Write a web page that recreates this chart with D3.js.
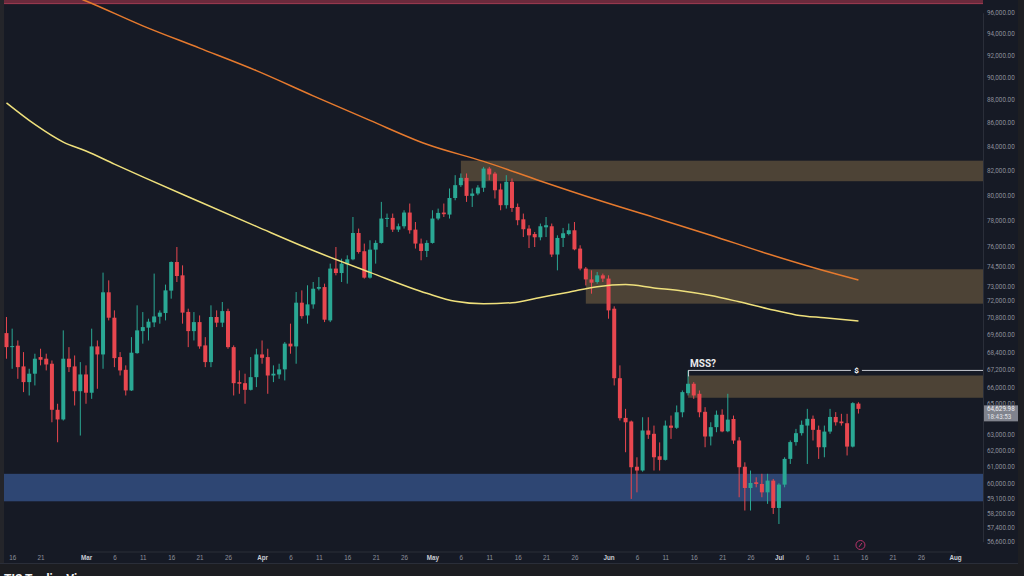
<!DOCTYPE html>
<html>
<head>
<meta charset="utf-8">
<script src="https://cdn.jsdelivr.net/npm/d3@7"></script>
<style>
  html, body { margin: 0; padding: 0; background: #161a25; overflow: hidden; }
  svg { display: block; font-family: Roboto, "DejaVu Sans", sans-serif; }
</style>
</head>
<body>
<svg id="chart" width="1024" height="576"></svg>
<script>
// daily candles, one per day starting here
var firstDay = "2025-02-15";

var opens = [69710,68740,68840,67430,66380,66940,68060,67950,67610,64570,
  63950,67950,67430,65780,66890,65680,68790,68240,72610,70790,
  68060,67200,65830,68330,69850,70090,70460,70860,71120,72730,
  74840,73850,71200,69850,70480,68860,67720,70840,70440,71260,
  68740,66380,66310,65870,66710,68240,68060,66820,66890,67230,
  68980,68790,71860,70950,71740,72870,72990,70600,74350,74020,
  74670,75040,77040,75650,73680,75770,76280,78160,78210,77300,
  77560,78630,77300,76230,75670,76280,78160,78630,78470,79780,
  80810,81400,79950,80140,80600,82160,81750,80460,79210,81080,
  79070,78100,77380,76960,76710,77480,77560,75400,76660,76960,
  77250,75850,74350,73550,73360,73850,73610,71430,66640,64050,
  63820,61000,60770,63250,63040,61640,61420,63560,63420,64410,
  65650,66270,65610,64440,62870,63460,64250,63200,63980,62620,
  61000,59720,60060,59960,59460,60160,58540,59920,61480,62520,
  63080,63560,63990,63290,62200,63180,64110,63820,63710,62240,
  64970];
var highs = [70840,70020,69200,68400,67270,68290,68630,68290,67830,64960,
  69900,68740,68170,67720,67500,70020,69200,74050,73480,71310,
  68400,67500,69430,71670,71190,70720,73980,71310,73170,74880,
  75970,74590,71430,71190,70950,69430,71670,71310,71910,71430,
  68860,67160,66940,68060,68630,69200,68630,67500,67610,69090,
  70370,72630,72750,73120,73360,73720,73240,74720,75970,75090,
  75340,78280,77380,76230,76480,76480,79470,78550,78550,77770,
  78810,79340,77890,76610,76480,78810,78940,79340,80540,81620,
  81760,81760,80540,80810,82300,82300,81890,80940,81620,81350,
  79340,78550,77640,77120,77770,78280,77770,76860,77430,77770,
  77890,76100,74470,74220,74100,73980,73850,71600,67500,64630,
  63880,61580,64090,64090,63560,62500,63880,64200,64850,65830,
  67160,66380,65830,64740,63770,64520,64600,65610,64200,62830,
  61270,60770,60360,60570,60570,60260,60000,61580,62620,63350,
  63880,64630,64200,63560,63560,64630,64420,64310,64310,65060,
  65060];
var lows = [67950,67270,66600,65720,65500,66160,67500,67160,63770,62510,
  63880,67050,64850,62930,64960,65280,65940,67270,70600,67380,
  66820,65500,65800,68290,68980,69200,70130,70370,70600,72150,
  73360,70370,68740,69200,68630,67380,67380,70130,70130,68630,
  65500,65610,64960,65830,66050,67610,65610,66380,66600,66490,
  68290,67610,70720,70370,71430,72750,70480,70480,73850,73360,
  73240,74970,75470,73610,73610,74720,76230,77500,77120,77120,
  77380,76990,75850,74970,75210,76230,78030,78280,78160,79600,
  80670,79470,79070,80000,80270,81210,79740,78810,78940,78680,
  77640,76730,75890,75970,76480,76730,75210,74220,75970,76860,
  75720,74220,73110,72510,73240,73360,70720,66160,63880,61890,
  59070,59460,60700,62720,60770,60770,61380,62720,63350,64090,
  65500,65280,64090,62200,62310,63140,63140,63140,62410,59170,
  58390,58390,59760,59170,58780,58190,57610,59760,61170,62300,
  62930,61170,62620,61480,61580,63040,63560,63560,61690,62190,
  64330];
var closes = [68740,68810,67380,66380,66940,67950,67880,67560,64570,63950,
  67950,67380,65780,66890,65680,68790,68240,72610,70790,67990,
  67160,65830,68360,69900,70130,70510,70880,71150,72750,74840,
  73800,71150,69850,70480,68790,67720,70840,70440,71260,68740,
  66310,66270,65870,66710,68240,68010,66820,66940,67230,68980,
  68790,71860,70900,71740,72870,72990,70650,74350,74020,74720,
  75040,77040,75590,73680,75770,76280,78160,78210,77300,77560,
  78630,77250,76230,75670,76280,78160,78600,78500,79780,80810,
  81400,79950,80140,80620,82160,81680,80400,79210,81080,78990,
  78030,77330,76860,76710,77560,77640,75400,76660,77020,77250,
  75790,74350,73550,73310,73850,73610,71310,66640,64030,63770,
  60970,60770,63250,62980,61580,61420,63560,63420,64410,65720,
  66270,65500,64410,62870,63460,64250,63190,63940,62620,60970,
  59720,60020,59960,59460,60160,58540,59920,61480,62520,63080,
  63610,63990,63290,62200,63180,64110,63770,63710,62240,65000,
  64629.98];

// moving averages
var slowMaDates = ["2025-02-25","2025-03-01","2025-03-11","2025-03-21","2025-03-31","2025-04-10",
  "2025-04-20","2025-04-30","2025-05-10","2025-05-20","2025-05-30","2025-06-09","2025-06-19",
  "2025-06-29","2025-07-09","2025-07-15"];
var slowMaValues = [98010,97130,94750,92660,90600,88350,86210,84180,82750,81150,79640,78250,
  76870,75460,74190,73510];
var fastMaDates = ["2025-02-15","2025-02-20","2025-02-25","2025-03-01","2025-03-06","2025-03-11",
  "2025-03-21","2025-03-31","2025-04-10","2025-04-20","2025-04-30","2025-05-05","2025-05-10",
  "2025-05-15","2025-05-20","2025-05-25","2025-05-30","2025-06-04","2025-06-09","2025-06-14",
  "2025-06-19","2025-06-24","2025-06-29","2025-07-04","2025-07-09","2025-07-15"];
var fastMaValues = [87730,85860,84360,83610,82530,81480,79480,77550,75700,74070,72540,71960,
  71780,71860,72240,72620,73020,73170,72930,72710,72380,71920,71430,70990,70780,70560];

// zones: start date, top, bottom
var zoneStarts = ["2025-02-01","2025-05-06","2025-05-28","2025-06-15","2025-02-01"];
var zoneTops = [98500,82810,74300,66820,60570];
var zoneBottoms = [96830,81130,71790,65350,58930];
var zoneColors = ["#6b2a3c","#4d4336","#4d4336","#4d4336","#2e4673"];

var mssDate = "2025-06-15", mssLevel = 67160, mssText = "MSS?";

var priceTicks = [96000,94000,92000,90000,88000,86000,84000,82000,80000,78000,76000,74500,
  73000,72000,70800,69600,68400,67200,66000,65000,63000,62000,61000,60000,59100,58200,
  57400,56600];
var tickDays = [1, 6, 11, 16, 21, 26];
var countdown = "18:43:53";

var parseDay = d3.utcParse("%Y-%m-%d");
var W = 1024, H = 576,
    plotLeft = 4, plotRight = 983, plotTop = 0, plotBottom = 551.5;

var svg = d3.select("#chart");

var x = d3.scaleUtc()
    .domain([new Date(Date.UTC(2025, 2, 1)), new Date(Date.UTC(2025, 7, 1))])
    .range([86, 955]);
var y = d3.scaleLog()
    .domain([56600, 96000])
    .range([541.7, 12.7]);

var start = parseDay(firstDay);
var candles = opens.map(function(o, i) {
  return {date: d3.utcDay.offset(start, i), o: o, h: highs[i], l: lows[i], c: closes[i]};
});

svg.append("rect").attr("width", W).attr("height", H).attr("fill", "#161a25");
svg.append("defs").append("clipPath").attr("id", "plotClip")
  .append("rect")
  .attr("x", plotLeft).attr("y", plotTop)
  .attr("width", plotRight - plotLeft).attr("height", plotBottom - plotTop);

var plot = svg.append("g").attr("clip-path", "url(#plotClip)");

// zones
plot.selectAll(".zone")
  .data(zoneStarts)
  .enter().append("rect")
  .attr("class", "zone")
  .attr("x", function(d) { return Math.max(plotLeft, x(parseDay(d))); })
  .attr("y", function(d, i) { return y(zoneTops[i]); })
  .attr("width", function(d) { return plotRight - Math.max(plotLeft, x(parseDay(d))); })
  .attr("height", function(d, i) { return y(zoneBottoms[i]) - y(zoneTops[i]); })
  .attr("fill", function(d, i) { return zoneColors[i]; });

plot.append("line")
  .attr("x1", plotLeft).attr("x2", plotRight)
  .attr("y1", y(zoneBottoms[0]) - 0.5).attr("y2", y(zoneBottoms[0]) - 0.5)
  .attr("stroke", "#9b3a50").attr("stroke-width", 1);

// candles
var bar = plot.selectAll(".candle")
  .data(candles)
  .enter().append("g")
  .attr("class", "candle")
  .attr("transform", function(d) { return "translate(" + x(d.date) + ",0)"; });

function col(d) { return d.c >= d.o ? "#2aa894" : "#e8474f"; }

bar.append("line")
  .attr("x1", 0).attr("x2", 0)
  .attr("y1", function(d) { return y(d.h); })
  .attr("y2", function(d) { return y(d.l); })
  .attr("stroke", col)
  .attr("stroke-width", 1);

bar.append("rect")
  .attr("x", -2)
  .attr("width", 4)
  .attr("y", function(d) { return y(Math.max(d.o, d.c)); })
  .attr("height", function(d) { return Math.max(1, Math.abs(y(d.o) - y(d.c))); })
  .attr("fill", col);

// moving averages
var line = d3.line()
  .x(function(d) { return x(d[0]); })
  .y(function(d) { return y(d[1]); })
  .curve(d3.curveMonotoneX);

plot.append("path")
  .datum(slowMaDates.map(function(d, i) { return [parseDay(d), slowMaValues[i]]; }))
  .attr("d", line)
  .attr("fill", "none")
  .attr("stroke", "#e67a2e")
  .attr("stroke-width", 1.5);

plot.append("path")
  .datum(fastMaDates.map(function(d, i) { return [parseDay(d), fastMaValues[i]]; }))
  .attr("d", line)
  .attr("fill", "none")
  .attr("stroke", "#efe07c")
  .attr("stroke-width", 1.5);

// MSS level
var mssX = x(parseDay(mssDate)), mssY = y(mssLevel);
svg.append("line")
  .attr("x1", mssX).attr("x2", plotRight)
  .attr("y1", mssY).attr("y2", mssY)
  .attr("stroke", "#c9ccd3").attr("stroke-width", 1);
svg.append("line")
  .attr("x1", mssX + 0.5).attr("x2", mssX + 0.5)
  .attr("y1", mssY).attr("y2", mssY + 6)
  .attr("stroke", "#c9ccd3").attr("stroke-width", 1);
svg.append("text")
  .attr("x", mssX + 2).attr("y", mssY - 3)
  .attr("fill", "#e8e9ec")
  .attr("font-size", 10).attr("font-weight", "bold")
  .text(mssText);
var lastDate = candles[candles.length - 1].date;
var dollar = svg.append("g").attr("transform", "translate(" + (x(lastDate) - 2) + "," + mssY + ")");
dollar.append("circle").attr("r", 5.5).attr("fill", "#161a25");
dollar.append("text")
  .attr("text-anchor", "middle").attr("dy", "0.35em")
  .attr("fill", "#ffffff").attr("font-size", 8).attr("font-weight", "bold")
  .text("$");

// small event icon near the time axis
var icon = svg.append("g").attr("transform", "translate(" + (x(lastDate) + 2) + ",545)");
icon.append("circle").attr("r", 4.5).attr("fill", "none").attr("stroke", "#b8336a").attr("stroke-width", 1);
icon.append("line").attr("x1", -1.5).attr("y1", 2).attr("x2", 1.5).attr("y2", -2)
  .attr("stroke", "#b8336a").attr("stroke-width", 1);

// price axis
var yAxis = d3.axisRight(y)
  .tickValues(priceTicks)
  .tickFormat(d3.format(",.2f"))
  .tickSize(0)
  .tickPadding(4);

var ya = svg.append("g")
  .attr("transform", "translate(" + plotRight + ",0)")
  .call(yAxis);
ya.select(".domain").attr("stroke", "#2a2e39");
ya.selectAll("text").attr("fill", "#8c909b").attr("font-size", 6.3)
  .attr("font-family", "Roboto, sans-serif");

// last price tag
var lastClose = closes[closes.length - 1];
var tagY = y(lastClose);
svg.append("rect")
  .attr("x", plotRight + 1).attr("y", tagY - 3.5)
  .attr("width", 35).attr("height", 16)
  .attr("fill", "#80838d");
svg.append("text")
  .attr("x", plotRight + 4).attr("y", tagY).attr("dy", "0.35em")
  .attr("fill", "#f0f1f4").attr("font-size", 6.3)
  .text(d3.format(",.2f")(lastClose));
svg.append("text")
  .attr("x", plotRight + 4).attr("y", tagY + 8).attr("dy", "0.35em")
  .attr("fill", "#e0e2e8").attr("font-size", 6.3)
  .text(countdown);

// time axis
var dateTicks = d3.utcDays(new Date(Date.UTC(2025, 1, 14)), new Date(Date.UTC(2025, 7, 6)))
  .filter(function(d) {
    if (tickDays.indexOf(d.getUTCDate()) < 0) return false;
    var nextMonth = d3.utcMonth.ceil(d);
    return d.getUTCDate() === 1 || d3.utcDay.count(d, nextMonth) >= 5;
  });

var xAxis = d3.axisBottom(x)
  .tickValues(dateTicks)
  .tickFormat(function(d) { return d.getUTCDate() === 1 ? d3.utcFormat("%b")(d) : d.getUTCDate(); })
  .tickSize(0)
  .tickPadding(4.5);

var xa = svg.append("g")
  .attr("transform", "translate(0," + plotBottom + ")")
  .call(xAxis);
xa.select(".domain").attr("stroke", "#2a2e39");
xa.selectAll("text")
  .attr("font-size", 6.3)
  .attr("fill", function(d) { return d.getUTCDate() === 1 ? "#c9ccd4" : "#8c909b"; })
  .attr("font-weight", function(d) { return d.getUTCDate() === 1 ? "bold" : "normal"; });

// frame strips
svg.append("rect").attr("x", 0).attr("y", 0).attr("width", plotLeft).attr("height", 564).attr("fill", "#24252a");
svg.append("rect").attr("x", 1018).attr("y", 0).attr("width", 6).attr("height", 564).attr("fill", "#1d1e22");
svg.append("line").attr("x1", 0).attr("x2", 1018).attr("y1", 563.5).attr("y2", 563.5).attr("stroke", "#2a2e39");
svg.append("rect").attr("x", 0).attr("y", 564).attr("width", W).attr("height", 12).attr("fill", "#1c1d21");
svg.append("text")
  .attr("x", 4).attr("y", 582.5)
  .attr("fill", "#f2f2f2").attr("font-size", 12).attr("font-weight", "bold")
  .text("TIS TradingView");
</script>
</body>
</html>
